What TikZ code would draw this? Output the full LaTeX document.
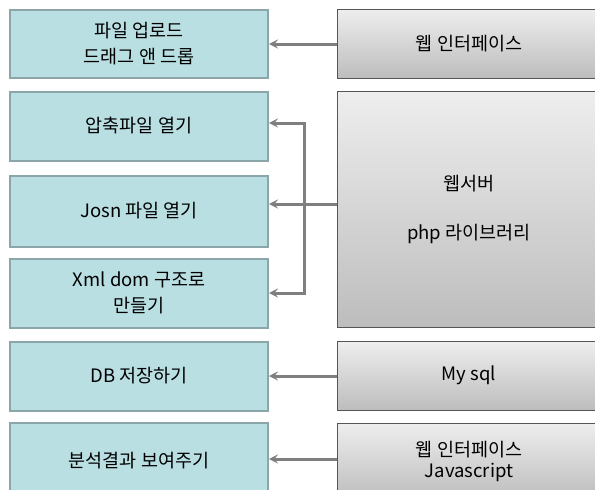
\documentclass[tikz,border=0pt]{standalone}
\usepackage{fontspec}
\setmainfont{Noto Sans CJK KR}
\usetikzlibrary{arrows.meta}
\definecolor{tealfill}{HTML}{B9DFE3}
\definecolor{tealedge}{HTML}{8AA6A9}
\definecolor{greytop}{HTML}{EEEEEE}
\definecolor{greybot}{HTML}{BDBDBD}
\definecolor{greyedge}{HTML}{555555}
\definecolor{conn}{HTML}{7F7F7F}
\tikzset{
  leftbox/.style={rectangle, draw=tealedge, line width=2pt, fill=tealfill,
    minimum width=258pt, inner sep=0pt, align=center,
    font=\fontsize{18.5}{26}\selectfont},
  rightbox/.style={rectangle, draw=greyedge, line width=1pt, top color=greytop, bottom color=greybot,
    minimum width=264pt, inner sep=0pt, align=center,
    font=\fontsize{18.5}{24}\selectfont},
  conline/.style={draw=conn, line width=3pt},
  conarrow/.style={conline, -{Stealth[length=9pt,width=9pt,inset=3.5pt]}}
}
\begin{document}
\begin{tikzpicture}[x=1pt,y=-1pt]
\clip (0,0) rectangle (595,490);
\fill[white] (0,0) rectangle (595,490);
% left boxes
\node[leftbox, minimum height=68pt] (L1) at (139,43.5) {파일 업로드\\드래그 앤 드롭};
\node[leftbox, minimum height=69pt] (L2) at (139,126) {압축파일 열기};
\node[leftbox, minimum height=71pt] (L3) at (139,211) {Josn 파일 열기};
\node[leftbox, minimum height=69pt] (L4) at (139,293) {Xml dom 구조로\\만들기};
\node[leftbox, minimum height=69pt] (L5) at (139,376) {DB 저장하기};
\node[leftbox, minimum height=76pt] (L6) at (139,461) {분석결과 보여주기};
% right boxes
\node[rightbox, minimum height=236pt] (R2) at (469,209) {웹서버\\[25pt]php 라이브러리};
\node[rightbox, minimum height=69pt] (R1) at (469,43.5) {웹 인터페이스};
\node[rightbox, minimum height=69pt] (R3) at (469,375.5) {My sql};
\node[rightbox, minimum height=76pt] (R4) at (469,461) {웹 인터페이스\\[-3pt]Javascript};
% connectors
\draw[conarrow] (R1.west |- 0,44) -- (L1.east |- 0,44);
\coordinate (J) at (304,204);
\coordinate (Jt) at (304,123);
\coordinate (Jb) at (304,293);
\draw[conarrow] (R2.west |- J) -- (L3.east |- J);
\draw[conline] (Jt) -- (Jb);
\draw[conarrow] ([xshift=1.5pt]Jt) -- (L2.east |- Jt);
\draw[conarrow] ([xshift=1.5pt]Jb) -- (L4.east |- Jb);
\draw[conarrow] (R3.west |- 0,376) -- (L5.east |- 0,376);
\draw[conarrow] (R4.west |- 0,459) -- (L6.east |- 0,459);
\end{tikzpicture}
\end{document}
